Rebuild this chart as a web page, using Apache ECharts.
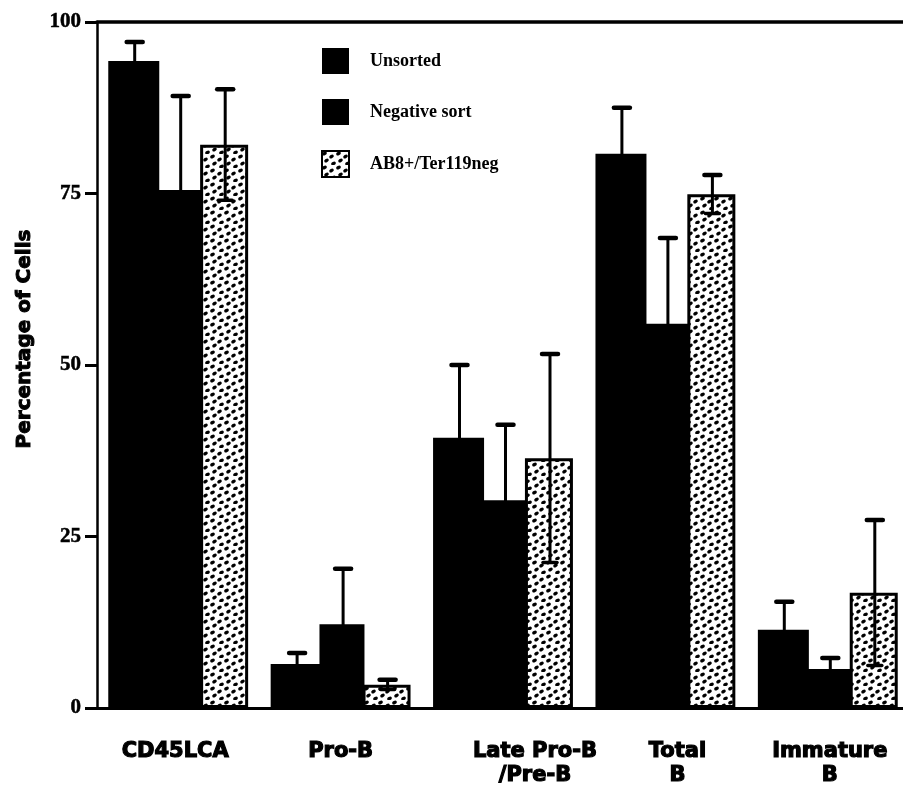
<!DOCTYPE html>
<html>
<head>
<meta charset="utf-8">
<script src="https://cdn.jsdelivr.net/npm/echarts@6/dist/echarts.min.js"></script>
<style>
  html, body { margin: 0; padding: 0; background: #fff; }
  #container { width: 903px; height: 802px; }
</style>
</head>
<body>
<div id="container"></div>
<script>
var categories = ['CD45LCA', 'Pro-B', 'Late Pro-B\n/Pre-B', 'Total\nB', 'Immature\nB'];
var seriesNames = ['Unsorted', 'Negative sort', 'AB8+/Ter119neg'];
var yTicks = [0, 25, 50, 75, 100];

// means and standard deviations
var unsorted = [94.3, 6.4, 39.4, 80.8, 11.4];
var unsortedSd = [2.8, 1.6, 10.6, 6.7, 4.1];
var negSort = [75.5, 12.2, 30.3, 56.0, 5.7];
var negSortSd = [13.7, 8.1, 11.0, 12.5, 1.6];
var ab8 = [82.1, 3.4, 36.4, 74.9, 16.8];
var ab8Sd = [8.1, 0.7, 15.2, 2.8, 10.6];

var barWidths = [51, 45, 48];
var labelShift = [-3, 0, 32, 12, 2];

// dotted fill for the AB8+ bars
function makeDots() {
	var c = document.createElement('canvas');
	c.width = 14;
	c.height = 14;
	var ctx = c.getContext('2d');
	ctx.fillStyle = '#fff';
	ctx.fillRect(0, 0, 14, 14);
	ctx.fillStyle = '#000';
	var pts = [[2.5, 2.5], [9.5, 5.5], [4.5, 9.5], [11.5, 12.5]];
	for (var i = 0; i < pts.length; i++) {
		ctx.beginPath();
		ctx.ellipse(pts[i][0], pts[i][1], 2.4, 1.7, -0.5, 0, Math.PI * 2);
		ctx.fill();
	}
	return c;
}
var dots = { image: makeDots(), repeat: 'repeat' };

// bars overlap by ~2px so the two black bars join without a seam
var overlap = 2;
function barOffset(idx) {
	var total = 0;
	for (var i = 0; i < barWidths.length; i++) total += barWidths[i];
	total -= overlap * (barWidths.length - 1);
	var x = -total / 2;
	for (var j = 0; j < idx; j++) x += barWidths[j] - overlap;
	return x + barWidths[idx] / 2 + 1;
}

function errorData(vals, sds) {
	var out = [];
	for (var i = 0; i < vals.length; i++) out.push([i, vals[i], sds[i]]);
	return out;
}

function errorSeries(idx, vals, sds) {
	var off = barOffset(idx);
	return {
		type: 'custom',
		z: 5,
		silent: true,
		data: errorData(vals, sds),
		renderItem: function(params, api) {
			var m = api.value(1), sd = api.value(2);
			var hi = api.coord([api.value(0), m + sd]);
			var lo = api.coord([api.value(0), Math.max(m - sd, 0)]);
			var x = hi[0] + off;
			return {
				type: 'group',
				children: [
					{ type: 'line', shape: { x1: x, y1: hi[1], x2: x, y2: lo[1] },
						style: { stroke: '#000', lineWidth: 3 } },
					{ type: 'line', shape: { x1: x - 8, y1: hi[1], x2: x + 8, y2: hi[1] },
						style: { stroke: '#000', lineWidth: 4.5, lineCap: 'round' } },
					{ type: 'line', shape: { x1: x - 7, y1: lo[1], x2: x + 7, y2: lo[1] },
						style: { stroke: '#000', lineWidth: 3.5, lineCap: 'round' } }
				]
			};
		}
	};
}

var rich = {};
for (var i = 0; i < labelShift.length; i++) {
	var s = labelShift[i];
	rich['c' + i] = {
		fontFamily: 'DejaVu Sans',
		fontWeight: 'bold',
		fontSize: 21,
		lineHeight: 24,
		color: '#000',
		textBorderColor: '#000',
		textBorderWidth: 1.2,
		padding: s >= 0 ? [0, 0, 0, 2 * s] : [0, -2 * s, 0, 0]
	};
}

var gapPct = (-overlap / 47 * 100).toFixed(1) + '%';

var dom = document.getElementById('container');
var myChart = echarts.init(dom, null, { renderer: 'canvas' });
var option = {
	backgroundColor: '#fff',
	animation: false,
	grid: {
		left: 97,
		right: -6,
		top: 22,
		bottom: 94,
		containLabel: false,
		outerBoundsMode: 'none'
	},
	legend: {
		data: seriesNames,
		orient: 'vertical',
		left: 316,
		top: 43,
		icon: 'rect',
		itemWidth: 27,
		itemHeight: 26,
		itemGap: 25,
		selectedMode: false,
		textStyle: {
			fontFamily: 'Liberation Serif',
			fontWeight: 'bold',
			fontSize: 18,
			color: '#000',
			padding: [0, 0, 0, 16]
		}
	},
	xAxis: [{
		type: 'category',
		data: categories,
		axisLine: { lineStyle: { color: '#000', width: 3 } },
		axisTick: { show: false },
		axisLabel: {
			interval: 0,
			margin: 32,
			formatter: function(value, idx) {
				return value.split('\n').map(function(t) {
					return '{c' + idx + '|' + t + '}';
				}).join('\n');
			},
			rich: rich
		}
	}, {
		type: 'category',
		position: 'top',
		data: categories,
		axisLine: { lineStyle: { color: '#000', width: 3.5 } },
		axisTick: { show: false },
		axisLabel: { show: false }
	}],
	yAxis: {
		type: 'value',
		min: yTicks[0],
		max: yTicks[yTicks.length - 1],
		interval: 25,
		name: 'Percentage of Cells',
		nameLocation: 'middle',
		nameRotate: 90,
		nameGap: 62,
		nameTextStyle: {
			fontFamily: 'DejaVu Sans',
			fontWeight: 'bold',
			fontSize: 20,
			color: '#000',
			textBorderColor: '#000',
			textBorderWidth: 1,
			padding: [0, 0, 0, 52]
		},
		axisLine: { show: true, lineStyle: { color: '#000', width: 2.5 } },
		axisTick: { show: true, length: 12, lineStyle: { color: '#000', width: 3 } },
		splitLine: { show: false },
		axisLabel: {
			margin: 16,
			fontFamily: 'Liberation Serif',
			fontWeight: 'bold',
			fontSize: 21,
			color: '#000',
			textBorderColor: '#000',
			textBorderWidth: 0.5
		}
	},
	series: [{
		name: seriesNames[0],
		type: 'bar',
		barWidth: barWidths[0],
		barGap: gapPct,
		data: unsorted,
		itemStyle: { color: '#000' }
	}, {
		name: seriesNames[1],
		type: 'bar',
		barWidth: barWidths[1],
		barGap: gapPct,
		data: negSort,
		itemStyle: { color: '#000' }
	}, {
		name: seriesNames[2],
		type: 'bar',
		barWidth: barWidths[2],
		barGap: gapPct,
		z: 3,
		data: ab8,
		itemStyle: { color: dots, borderColor: '#000', borderWidth: 3 }
	},
	errorSeries(0, unsorted, unsortedSd),
	errorSeries(1, negSort, negSortSd),
	errorSeries(2, ab8, ab8Sd)]
};
myChart.setOption(option);
</script>
</body>
</html>
